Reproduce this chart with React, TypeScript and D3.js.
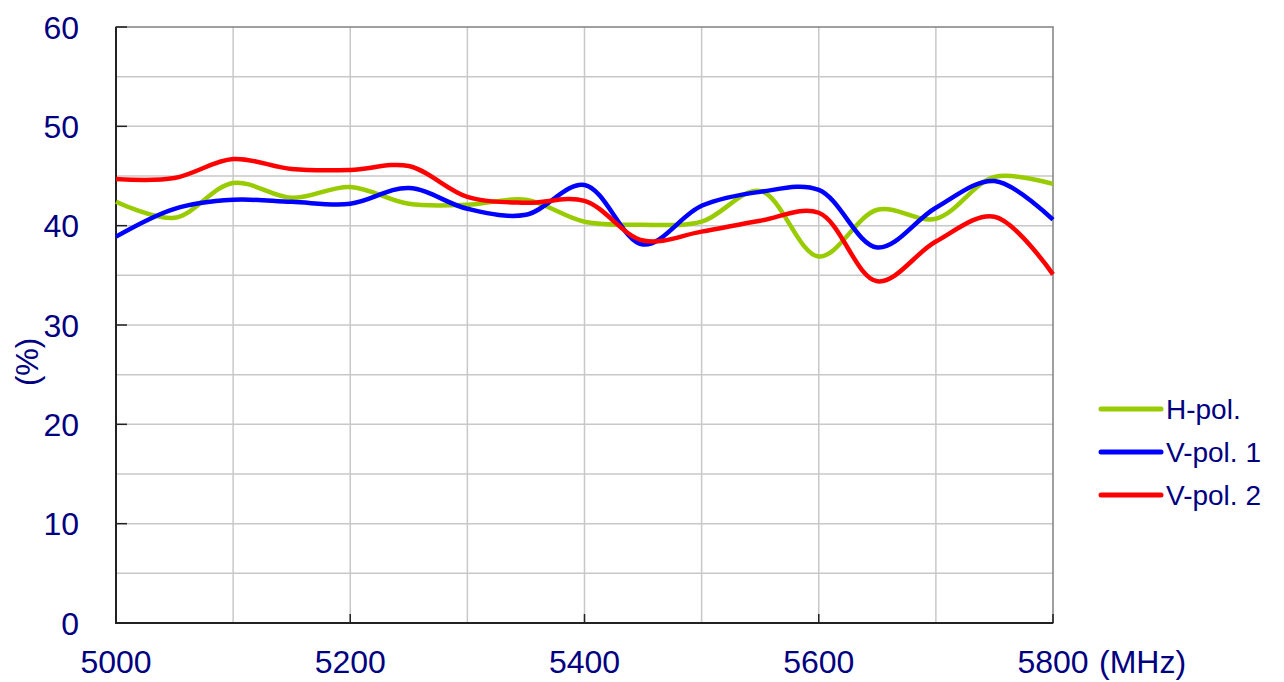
import React, { useRef, useEffect } from 'react';
import * as d3 from 'd3';

// Frequency samples (MHz)
const freqs = [5000, 5050, 5100, 5150, 5200, 5250, 5300, 5350, 5400, 5450, 5500, 5550, 5600, 5650, 5700, 5750, 5800];

// Efficiency (%)
const hPol = [42.4, 40.8, 44.3, 42.8, 43.9, 42.2, 42.1, 42.6, 40.4, 40.1, 40.4, 43.5, 36.9, 41.6, 40.7, 44.9, 44.2];
const vPol1 = [38.9, 41.7, 42.6, 42.4, 42.2, 43.8, 41.7, 41.1, 44.1, 38.1, 42.0, 43.4, 43.6, 37.8, 41.8, 44.5, 40.6];
const vPol2 = [44.7, 44.8, 46.7, 45.7, 45.6, 46.0, 42.9, 42.3, 42.5, 38.5, 39.4, 40.5, 41.3, 34.4, 38.4, 40.9, 35.1];

const seriesNames = ['H-pol.', 'V-pol. 1', 'V-pol. 2'];
const seriesColors = ['#99cc00', '#0000ff', '#ff0000'];
const seriesValues = [hPol, vPol1, vPol2];

const xTicks = [5000, 5200, 5400, 5600, 5800];
const yTicks = [0, 10, 20, 30, 40, 50, 60];

const W = 1284;
const H = 682;
const margin = { left: 116, right: 231, top: 27, bottom: 59 };
const textColor = '#000080';
const font = 'Liberation Sans, Arial, sans-serif';

export default function App() {
    const svgRef = useRef<SVGSVGElement>(null);

    useEffect(() => {
        if (!svgRef.current) return;
        const svg = d3.select(svgRef.current);
        svg.selectAll('*').remove();

        const x = d3.scaleLinear().domain([5000, 5800]).range([margin.left, W - margin.right]);
        const y = d3.scaleLinear().domain([0, 60]).range([H - margin.bottom, margin.top]);
        const [x0, x1] = x.range();
        const [y0, y1] = y.range();

        // grid
        const grid = svg.append('g');
        d3.range(5100, 5800, 100).forEach(f => {
            grid.append('line')
                .attr('x1', x(f)).attr('x2', x(f))
                .attr('y1', y0).attr('y2', y1)
                .attr('stroke', '#c8c8c8').attr('stroke-width', 1.5);
        });
        d3.range(5, 60, 5).forEach(v => {
            grid.append('line')
                .attr('x1', x0).attr('x2', x1)
                .attr('y1', y(v)).attr('y2', y(v))
                .attr('stroke', '#c8c8c8').attr('stroke-width', 1.5);
        });

        // frame
        svg.append('rect')
            .attr('x', x0).attr('y', y1)
            .attr('width', x1 - x0).attr('height', y0 - y1)
            .attr('fill', 'none').attr('stroke', '#808080').attr('stroke-width', 1.5);
        svg.append('path')
            .attr('d', `M${x0},${y1}V${y0}H${x1}`)
            .attr('fill', 'none').attr('stroke', '#222').attr('stroke-width', 2);

        // ticks
        yTicks.forEach(v => {
            svg.append('line')
                .attr('x1', x0).attr('x2', x0 + 11)
                .attr('y1', y(v)).attr('y2', y(v))
                .attr('stroke', '#222').attr('stroke-width', 1.5);
            svg.append('text')
                .attr('x', 79).attr('y', y(v))
                .attr('dy', '0.36em')
                .attr('text-anchor', 'end')
                .attr('fill', textColor)
                .attr('font-family', font)
                .attr('font-size', 32)
                .text(v);
        });
        xTicks.forEach(f => {
            svg.append('line')
                .attr('x1', x(f)).attr('x2', x(f))
                .attr('y1', y0).attr('y2', y0 - 9)
                .attr('stroke', '#222').attr('stroke-width', 1.5);
            svg.append('text')
                .attr('x', x(f)).attr('y', 673)
                .attr('text-anchor', 'middle')
                .attr('fill', textColor)
                .attr('font-family', font)
                .attr('font-size', 32)
                .text(f);
        });
        svg.append('text')
            .attr('x', x(5800) + 46).attr('y', 673)
            .attr('fill', textColor)
            .attr('font-family', font)
            .attr('font-size', 32)
            .text('(MHz)');

        svg.append('text')
            .attr('transform', 'translate(38,362) rotate(-90)')
            .attr('text-anchor', 'middle')
            .attr('fill', textColor)
            .attr('font-family', font)
            .attr('font-size', 31)
            .text('(%)');

        // lines
        const line = d3.line<number>()
            .x((_, i) => x(freqs[i]))
            .y(d => y(d))
            .curve(d3.curveCatmullRom.alpha(0.5));

        seriesValues.forEach((vals, k) => {
            svg.append('path')
                .attr('d', line(vals))
                .attr('fill', 'none')
                .attr('stroke', seriesColors[k])
                .attr('stroke-width', 4.5)
                .attr('stroke-linejoin', 'round');
        });

        // legend
        seriesNames.forEach((name, k) => {
            const ly = 409 + k * 43;
            svg.append('line')
                .attr('x1', 1101).attr('x2', 1161)
                .attr('y1', ly).attr('y2', ly)
                .attr('stroke', seriesColors[k])
                .attr('stroke-width', 5)
                .attr('stroke-linecap', 'round');
            svg.append('text')
                .attr('x', 1166).attr('y', ly)
                .attr('dy', '0.36em')
                .attr('fill', textColor)
                .attr('font-family', font)
                .attr('font-size', 28)
                .text(name);
        });
    }, []);

    return <svg ref={svgRef} width={W} height={H} style={{ display: 'block', position: 'absolute', left: 0, top: 0, background: '#fff' }} />;
}
